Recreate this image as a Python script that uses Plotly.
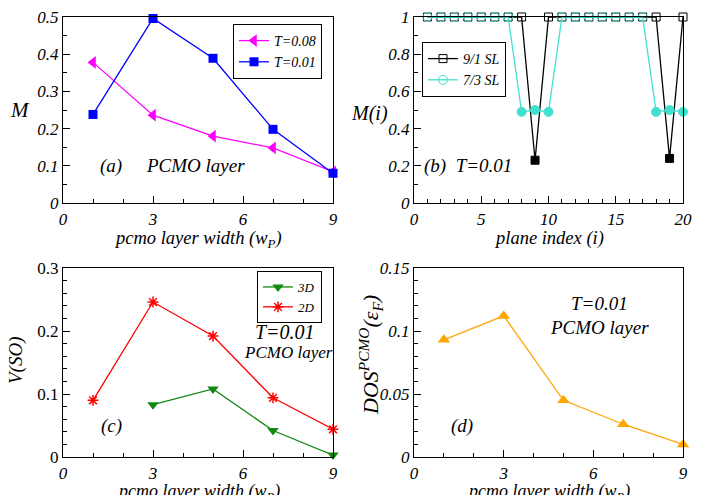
import plotly.graph_objects as go

# ---------------- data ----------------
wp = [1, 3, 5, 7, 9]
M_T008 = [0.378, 0.236, 0.180, 0.148, 0.084]
M_T001 = [0.238, 0.496, 0.389, 0.198, 0.080]

plane = list(range(1, 21))
M_91 = [1, 1, 1, 1, 1, 1, 1, 1, 0.23, 1, 1, 1, 1, 1, 1, 1, 1, 1, 0.24, 1]
M_73 = [1, 1, 1, 1, 1, 1, 1, 0.49, 0.50, 0.49, 1, 1, 1, 1, 1, 1, 1, 0.49, 0.50, 0.49]

wp_3d = [3, 5, 7, 9]
V_3D = [0.083, 0.108, 0.042, 0.003]
V_2D = [0.090, 0.246, 0.192, 0.094, 0.044]

DOS = [0.093, 0.112, 0.045, 0.026, 0.010]

x_ticks_w = [0, 3, 6, 9]

FONT = "Liberation Serif"

fig = go.Figure()

def sym(vals, open_s, fill_s):
    return [open_s if v >= 0.999 else fill_s for v in vals]

# (a)
fig.add_trace(go.Scatter(x=wp, y=M_T008, mode="lines+markers", name="<i>T=0.08</i>",
                         line=dict(color="#ff00ff", width=1.3),
                         marker=dict(symbol="triangle-left", size=11, color="#ff00ff"),
                         xaxis="x", yaxis="y", legend="legend", cliponaxis=False))
fig.add_trace(go.Scatter(x=wp, y=M_T001, mode="lines+markers", name="<i>T=0.01</i>",
                         line=dict(color="#0000ff", width=1.3),
                         marker=dict(symbol="square", size=9, color="#0000ff"),
                         xaxis="x", yaxis="y", legend="legend", cliponaxis=False))
# (b)
fig.add_trace(go.Scatter(x=plane, y=M_91, mode="lines+markers", name="<i>9/1 SL</i>",
                         line=dict(color="black", width=1.3),
                         marker=dict(symbol=sym(M_91, "square-open", "square"), size=8, color="black",
                                     line=dict(width=1, color="black")),
                         xaxis="x2", yaxis="y2", legend="legend2", cliponaxis=False))
fig.add_trace(go.Scatter(x=plane, y=M_73, mode="lines+markers", name="<i>7/3 SL</i>",
                         line=dict(color="#40e0d0", width=1.3),
                         marker=dict(symbol=sym(M_73, "circle-open", "circle"), size=9, color="#40e0d0",
                                     line=dict(width=1, color="#40e0d0")),
                         xaxis="x2", yaxis="y2", legend="legend2", cliponaxis=False))
# (c)
fig.add_trace(go.Scatter(x=wp_3d, y=V_3D, mode="lines+markers", name="<i>3D</i>",
                         line=dict(color="#118811", width=1.3),
                         marker=dict(symbol="triangle-down", size=10, color="#118811"),
                         xaxis="x3", yaxis="y3", legend="legend3", cliponaxis=False))
fig.add_trace(go.Scatter(x=wp, y=V_2D, mode="lines+markers", name="<i>2D</i>",
                         line=dict(color="#ff0000", width=1.3),
                         marker=dict(symbol="asterisk-open", size=9, color="#ff0000",
                                     line=dict(width=1.5, color="#ff0000")),
                         xaxis="x3", yaxis="y3", legend="legend3", cliponaxis=False))
# (d)
fig.add_trace(go.Scatter(x=wp, y=DOS, mode="lines+markers", name="DOS",
                         line=dict(color="#ffa500", width=1.3),
                         marker=dict(symbol="triangle-up", size=11, color="#ffa500"),
                         xaxis="x4", yaxis="y4", showlegend=False, cliponaxis=False))

W, H = 702, 495
def px(x0, x1):
    return [x0 / W, x1 / W]
def py(top, bottom):
    return [1 - bottom / H, 1 - top / H]

xl = px(63, 333)
xr = px(414, 683)
yt = py(17, 203)
yb = py(268, 457)

tickfont_it = dict(family=FONT, size=17, color="black", style="italic")
tickfont_up = dict(family=FONT, size=17, color="black")

def xax(domain, anchor, rng, tickvals, minor_dtick):
    return dict(domain=domain, anchor=anchor, range=rng, tickmode="array", tickvals=tickvals,
                ticks="inside", ticklen=7, tickwidth=1, tickcolor="black",
                minor=dict(ticks="inside", ticklen=4, dtick=minor_dtick, tick0=0, tickcolor="black"),
                showline=True, linecolor="black", linewidth=1.3, mirror=True,
                showgrid=False, zeroline=False, tickfont=tickfont_it, automargin=False)

def yax(domain, anchor, rng, dtick, minor_dtick, tfont):
    return dict(domain=domain, anchor=anchor, range=rng, dtick=dtick, tick0=0,
                ticks="inside", ticklen=7, tickwidth=1, tickcolor="black",
                minor=dict(ticks="inside", ticklen=4, dtick=minor_dtick, tick0=0, tickcolor="black"),
                showline=True, linecolor="black", linewidth=1.3, mirror=True,
                showgrid=False, zeroline=False, tickfont=tfont, automargin=False)

fig.update_layout(
    xaxis=xax(xl, "y", [0, 9], x_ticks_w, 1),
    yaxis=yax(yt, "x", [0, 0.5], 0.1, 0.05, tickfont_it),
    xaxis2=xax(xr, "y2", [0, 20], [0, 5, 10, 15, 20], 1),
    yaxis2=yax(yt, "x2", [0, 1], 0.2, 0.1, tickfont_it),
    xaxis3=xax(xl, "y3", [0, 9], x_ticks_w, 1),
    yaxis3=yax(yb, "x3", [0, 0.3], 0.1, 0.02, tickfont_up),
    xaxis4=xax(xr, "y4", [0, 9], x_ticks_w, 1),
    yaxis4=yax(yb, "x4", [0, 0.15], 0.05, 0.01, tickfont_it),
)

def legend_cfg(x, y, size):
    return dict(x=x, y=y, bgcolor="white", bordercolor="black", borderwidth=1,
                font=dict(family=FONT, size=size, color="black"),
                xanchor="left", yanchor="top", tracegroupgap=0, itemwidth=30)

fig.update_layout(
    legend=legend_cfg(233 / W, 1 - 24 / H, 14),
    legend2=legend_cfg(422 / W, 1 - 42 / H, 14),
    legend3=legend_cfg(257 / W, 1 - 271 / H, 13),
)

def f(size, italic=True):
    d = dict(family=FONT, size=size, color="black")
    if italic:
        d["style"] = "italic"
    return d

wtitle = "pcmo layer width (w<sub>P</sub>)"
anns = [
    dict(x=1.6, y=0.10, xref="x", yref="y", text="(a)", font=f(19)),
    dict(x=4.4, y=0.10, xref="x", yref="y", text="PCMO layer", font=f(19)),
    dict(x=4.0, y=0.20, xref="x2", yref="y2", text="(b)  T=0.01", font=f(19)),
    dict(x=7.4, y=0.198, xref="x3", yref="y3", text="T=0.01", font=f(20)),
    dict(x=7.5, y=0.166, xref="x3", yref="y3", text="PCMO layer", font=f(17)),
    dict(x=1.6, y=0.05, xref="x3", yref="y3", text="(c)", font=f(19)),
    dict(x=6.2, y=0.122, xref="x4", yref="y4", text="T=0.01", font=f(19)),
    dict(x=6.2, y=0.103, xref="x4", yref="y4", text="PCMO layer", font=f(19)),
    dict(x=1.6, y=0.025, xref="x4", yref="y4", text="(d)", font=f(19)),
    # x-axis titles
    dict(x=sum(xl) / 2, y=1 - 226 / H, xref="paper", yref="paper", text=wtitle,
         font=f(18.5), xanchor="center", yanchor="top"),
    dict(x=sum(xr) / 2, y=1 - 226 / H, xref="paper", yref="paper", text="plane index (i)",
         font=f(18.5), xanchor="center", yanchor="top"),
    dict(x=sum(xl) / 2, y=1 - 479 / H, xref="paper", yref="paper", text=wtitle,
         font=f(18), xanchor="center", yanchor="top"),
    dict(x=sum(xr) / 2, y=1 - 479 / H, xref="paper", yref="paper", text=wtitle,
         font=f(18), xanchor="center", yanchor="top"),
    # y-axis titles
    dict(x=20 / W, y=1 - 110 / H, xref="paper", yref="paper", text="M", font=f(21),
         xanchor="center", yanchor="middle"),
    dict(x=369 / W, y=1 - 113 / H, xref="paper", yref="paper", text="M(i)", font=f(20),
         xanchor="center", yanchor="middle"),
    dict(x=16 / W, y=1 - 361 / H, xref="paper", yref="paper", text="V(SO)", textangle=-90,
         font=f(19), xanchor="center", yanchor="middle"),
    dict(x=370 / W, y=1 - 355 / H, xref="paper", yref="paper",
         text="DOS<sup>PCMO</sup>(ε<sub>F</sub>)", textangle=-90,
         font=f(22), xanchor="center", yanchor="middle"),
]
for a in anns:
    a["showarrow"] = False
fig.update_layout(annotations=anns)

fig.update_layout(width=W, height=H, margin=dict(l=0, r=0, t=0, b=0),
                  paper_bgcolor="white", plot_bgcolor="white",
                  font=dict(family=FONT, color="black"), template="none")

fig.write_html("out.html")
